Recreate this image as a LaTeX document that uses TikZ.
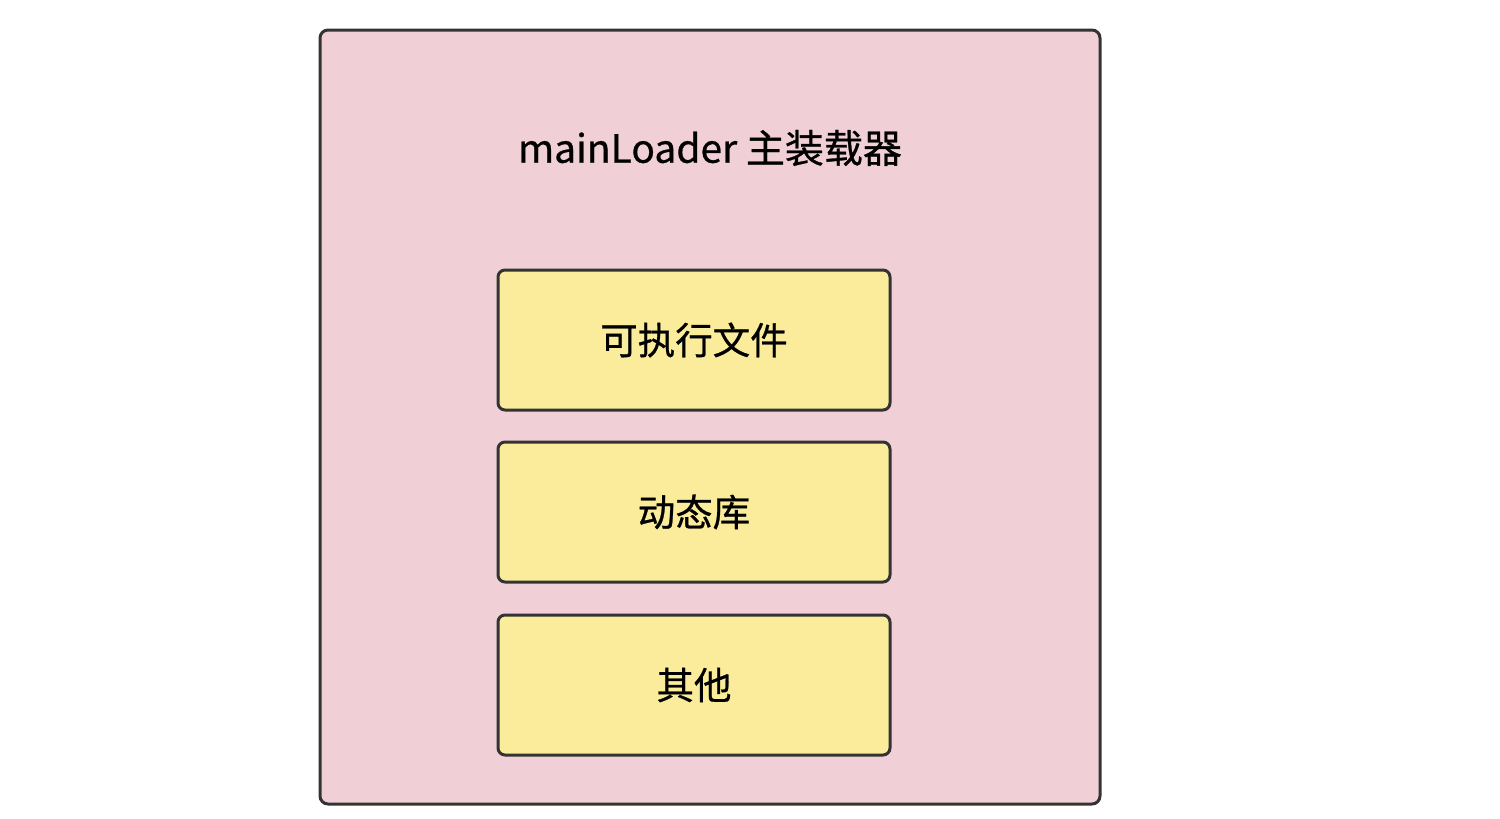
\documentclass[tikz,border=0pt]{standalone}
\usepackage{fontspec}
\setmainfont{Noto Sans CJK SC}[BoldFont={Noto Sans CJK SC},BoldFeatures={FakeBold=0.7}]
\definecolor{pinkbg}{HTML}{F0D0D6}
\definecolor{yellowbg}{HTML}{FAEC9A}
\definecolor{edge}{HTML}{333333}
\begin{document}
\begin{tikzpicture}[x=1pt,y=-1pt,
  outerbox/.style={draw=edge,line width=3pt,fill=pinkbg,rounded corners=8pt},
  itembox/.style={draw=edge,line width=3pt,fill=yellowbg,rounded corners=7pt,minimum width=392pt,minimum height=140pt,inner sep=0pt,font=\fontsize{37.5}{42}\selectfont\bfseries},
  titletext/.style={font=\fontsize{39}{44}\selectfont\bfseries}]
\useasboundingbox (0,0) rectangle (1500,819);
\draw[outerbox] (320,30) rectangle (1100,804);
\node[titletext] (title) at (710,148) {mainLoader 主装载器};
\node[itembox] (exe) at (694,340) {可执行文件};
\node[itembox] (dyn) at (694,512) {动态库};
\node[itembox] (other) at (694,685) {其他};
\end{tikzpicture}
\end{document}
